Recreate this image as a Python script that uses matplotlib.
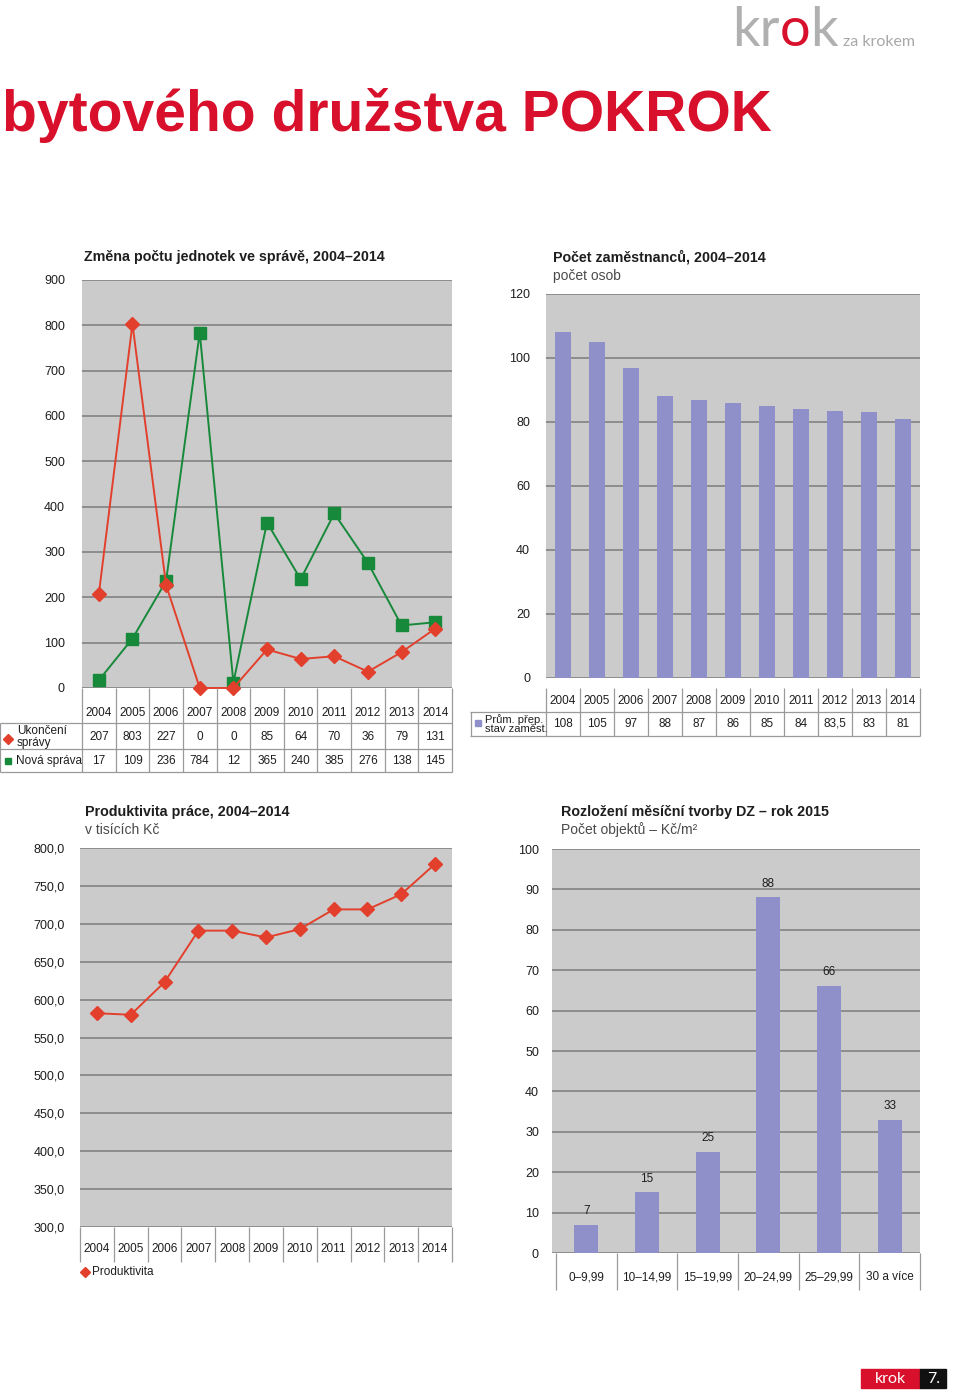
import numpy as np
import matplotlib
matplotlib.use('Agg')
import matplotlib.pyplot as plt
from matplotlib.patches import Rectangle

W, H = 960, 1394
plt.rcParams['font.family'] = ['Liberation Sans', 'DejaVu Sans']

# data
years = ['2004', '2005', '2006', '2007', '2008', '2009', '2010', '2011', '2012', '2013', '2014']
ukonceni = [207, 803, 227, 0, 0, 85, 64, 70, 36, 79, 131]
nova = [17, 109, 236, 784, 12, 365, 240, 385, 276, 138, 145]
zamestnanci = [108, 105, 97, 88, 87, 86, 85, 84, 83.5, 83, 81]
produktivita = [582, 580, 623, 691, 691, 682, 693, 719, 719, 739, 779]
dz_kategorie = ['0–9,99', '10–14,99', '15–19,99', '20–24,99', '25–29,99', '30 a více']
dz_pocet = [7, 15, 25, 88, 66, 33]

RED = '#e2402c'
GREEN = '#17893b'
LAV = '#8f8fca'
BG = '#cbcbcb'
GRID = '#7c7c7c'
TLINE = '#9a9a9a'
TXT = '#1e1e1e'


def fmt_cz(v, dec=0):
    s = f'{v:.{dec}f}' if dec else (f'{v:g}')
    return s.replace('.', ',')


fig = plt.figure(figsize=(W / 100, H / 100), dpi=100)


def box(x0, y0, x1, y1):
    return fig.add_axes([x0 / W, 1 - y1 / H, (x1 - x0) / W, (y1 - y0) / H])


def chart(x0, y0, x1, y1, ylim, step, pad_px, dec=0):
    ax = box(x0, y0, x1, y1)
    ax.set_facecolor(BG)
    ax.set_ylim(*ylim)
    ticks = np.arange(ylim[0], ylim[1] + step / 2, step)
    ax.set_yticks(ticks)
    ax.set_yticklabels([fmt_cz(t, dec) if dec else f'{t:g}' for t in ticks])
    for s in ax.spines.values():
        s.set_visible(False)
    ax.yaxis.grid(True, color=GRID, lw=1.1)
    ax.set_axisbelow(True)
    ax.tick_params(axis='y', length=0, pad=pad_px * 0.72, labelsize=9, labelcolor=TXT)
    ax.set_xticks([])
    return ax


def table(x0, y0, x1, y1, cx0, cx1, n):
    ax = box(x0, y0, x1, y1)
    colw = (cx1 - cx0) / n
    lo = -0.5 - (cx0 - x0) / colw
    ax.set_xlim(lo, n - 0.5 + (x1 - cx1) / colw)
    ax.set_ylim(y1, y0)
    ax.axis('off')
    to_x = lambda px: lo + (px - x0) / colw
    return ax, to_x


def tline(ax, xs, ys):
    ax.plot(xs, ys, color=TLINE, lw=0.9, clip_on=False, solid_capstyle='butt')


# ---------- title + logo ----------
fig.text(2 / W, 1 - 131 / H, 'bytového družstva POKROK', color='#d8102b',
         fontsize=41, fontweight='bold', va='baseline', ha='left')

over = fig.add_axes([0, 0, 1, 1])
over.axis('off')
logo = dict(fontsize=39, family='Lato', va='bottom', ha='left')
k1 = over.text(732 / W, 1 - 55 / H, 'kr', color='#b0b0b0', transform=over.transAxes, **logo)
k2 = over.annotate('o', xy=(1, 0), xycoords=k1, color='#d8102b', **logo)
k3 = over.annotate('k', xy=(1, 0), xycoords=k2, color='#b0b0b0', **logo)
over.annotate('za krokem', xy=(1, 0), xycoords=k3, xytext=(4, 4),
              textcoords='offset points', color='#a8a8a8', fontsize=11.5,
              family='Lato', va='bottom', ha='left')

# ---------- chart 1 ----------
ax1 = chart(82, 280, 452, 688, (0, 900), 100, 17)
x = np.arange(len(years))
ax1.set_xlim(-0.5, len(years) - 0.5)
ax1.plot(x, nova, color=GREEN, lw=1.4, marker='s', ms=9, mfc=GREEN, mec=GREEN, clip_on=False, zorder=3)
ax1.plot(x, ukonceni, color=RED, lw=1.4, marker='D', ms=7, mfc=RED, mec=RED, clip_on=False, zorder=4)
fig.text(84 / W, 1 - 261 / H, 'Změna počtu jednotek ve správě, 2004–2014',
         fontsize=10.3, fontweight='bold', color=TXT)

t1, tx1 = table(0, 688, 452, 773, 82, 452, len(years))
for i in range(len(years) + 1):
    tline(t1, [i - 0.5] * 2, [688, 772])
tline(t1, [tx1(0.5)] * 2, [723, 772])
for yy in (723, 749, 772):
    tline(t1, [tx1(0), tx1(452)], [yy, yy])
for i, yr in enumerate(years):
    t1.text(i, 713, yr, ha='center', va='center', fontsize=8.5, color=TXT)
    t1.text(i, 737, str(ukonceni[i]), ha='center', va='center', fontsize=8.5, color=TXT)
    t1.text(i, 761, str(nova[i]), ha='center', va='center', fontsize=8.5, color=TXT)
t1.plot([tx1(8)], [739], marker='D', ms=5, color=RED, clip_on=False)
t1.text(tx1(17), 737, 'Ukončení\nsprávy', ha='left', va='center', fontsize=8.5,
        color=TXT, linespacing=0.95)
t1.plot([tx1(8)], [761], marker='s', ms=5, color=GREEN, clip_on=False)
t1.text(tx1(16), 761, 'Nová správa', ha='left', va='center', fontsize=8.5, color=TXT)

# ---------- chart 2 ----------
ax2 = chart(546, 294, 920, 678, (0, 120), 20, 16)
ax2.set_xlim(-0.5, len(years) - 0.5)
ax2.bar(x, zamestnanci, width=0.46, color=LAV, zorder=3)
fig.text(553 / W, 1 - 261 / H, 'Počet zaměstnanců, 2004–2014',
         fontsize=10.3, fontweight='bold', color=TXT)
fig.text(553 / W, 1 - 280 / H, 'počet osob', fontsize=10, color='#4a4a4a')

t2, tx2 = table(470, 678, 920, 737, 546, 920, len(years))
for i in range(len(years) + 1):
    tline(t2, [i - 0.5] * 2, [688, 736])
tline(t2, [tx2(470.5)] * 2, [712, 736])
for yy in (712, 736):
    tline(t2, [tx2(470), tx2(920)], [yy, yy])
for i, yr in enumerate(years):
    t2.text(i, 701, yr, ha='center', va='center', fontsize=8.5, color=TXT)
    t2.text(i, 724, fmt_cz(zamestnanci[i]), ha='center', va='center', fontsize=8.5, color=TXT)
t2.plot([tx2(478)], [723], marker='s', ms=4.5, color=LAV, clip_on=False)
t2.text(tx2(485), 724, 'Prům. přep.\nstav zaměst.', ha='left', va='center',
        fontsize=8, color=TXT, linespacing=0.9)

# ---------- chart 3 ----------
ax3 = chart(80, 848, 452, 1227, (300, 800), 50, 15, dec=1)
ax3.set_xlim(-0.5, len(years) - 0.5)
ax3.plot(x, produktivita, color=RED, lw=1.4, marker='D', ms=7, mfc=RED, mec=RED, zorder=3)
fig.text(85 / W, 1 - 816 / H, 'Produktivita práce, 2004–2014',
         fontsize=10.3, fontweight='bold', color=TXT)
fig.text(85 / W, 1 - 834 / H, 'v tisících Kč', fontsize=10, color='#4a4a4a')

t3, tx3 = table(80, 1227, 452, 1285, 80, 452, len(years))
for i in range(len(years) + 1):
    tline(t3, [i - 0.5] * 2, [1227, 1262])
for i, yr in enumerate(years):
    t3.text(i, 1249, yr, ha='center', va='center', fontsize=8.5, color=TXT)
t3.plot([tx3(85)], [1272], marker='D', ms=5, color=RED, clip_on=False)
t3.text(tx3(92), 1272, 'Produktivita', ha='left', va='center', fontsize=8.5, color=TXT)

# ---------- chart 4 ----------
ax4 = chart(552, 849, 920, 1253, (0, 100), 10, 13)
xc = np.arange(len(dz_kategorie))
ax4.set_xlim(-0.5 - 4 / 60.7, len(dz_kategorie) - 0.5)
ax4.bar(xc, dz_pocet, width=0.40, color=LAV, zorder=3)
for xi, v in zip(xc, dz_pocet):
    ax4.annotate(str(v), (xi, v), xytext=(0, 10), textcoords='offset points',
                 ha='center', va='center', fontsize=8.5, color=TXT)
fig.text(561 / W, 1 - 816 / H, 'Rozložení měsíční tvorby DZ – rok 2015',
         fontsize=10.3, fontweight='bold', color=TXT)
fig.text(561 / W, 1 - 834 / H, 'Počet objektů – Kč/m²', fontsize=10, color='#4a4a4a')

t4, tx4 = table(556, 1253, 920, 1291, 556, 920, len(dz_kategorie))
for i in range(len(dz_kategorie) + 1):
    tline(t4, [i - 0.5] * 2, [1253, 1290])
for i, c in enumerate(dz_kategorie):
    t4.text(i, 1277, c, ha='center', va='center', fontsize=8.5, color=TXT)

# ---------- footer ----------
fig.patches.append(Rectangle((861 / W, 1 - 1388 / H), 59 / W, 19 / H,
                             transform=fig.transFigure, color='#d8102b'))
fig.patches.append(Rectangle((920 / W, 1 - 1388 / H), 26 / W, 19 / H,
                             transform=fig.transFigure, color='#111111'))
fig.text(890 / W, 1 - 1379 / H, 'krok', color='white', fontsize=11.5, ha='center',
         va='center', family='Lato')
fig.text(934 / W, 1 - 1379 / H, '7.', color='white', fontsize=11.5, ha='center',
         va='center', family='Lato')

fig.savefig('out.png', dpi=100)
